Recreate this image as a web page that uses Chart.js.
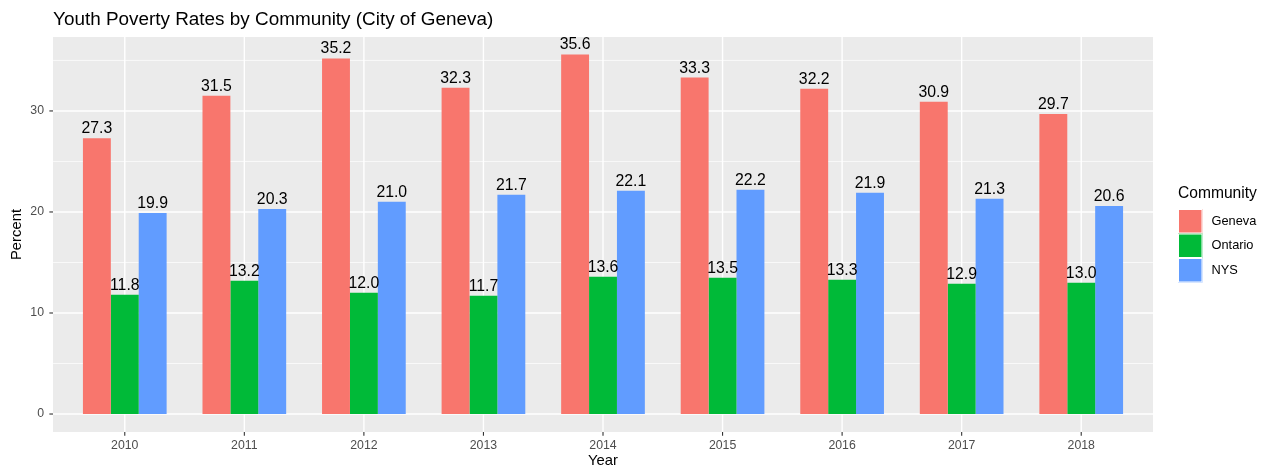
<!doctype html>
<html><head>
<meta charset="utf-8">
<title>Youth Poverty Rates</title>
<script src="https://cdn.jsdelivr.net/npm/chart.js"></script>
<style>
  body { margin: 0; background: #fff; }
</style>
</head>
<body>
<canvas id="myChart" width="1270" height="470"></canvas>
<script>
// data
const years = ['2010', '2011', '2012', '2013', '2014', '2015', '2016', '2017', '2018'];
const geneva = [27.3, 31.5, 35.2, 32.3, 35.6, 33.3, 32.2, 30.9, 29.7];
const ontario = [11.8, 13.2, 12.0, 11.7, 13.6, 13.5, 13.3, 12.9, 13.0];
const nys = [19.9, 20.3, 21.0, 21.7, 22.1, 22.2, 21.9, 21.3, 20.6];
const yTicks = [0, 10, 20, 30];
const yMinor = [5, 15, 25, 35];

const FONT = '"Liberation Sans", Arial, sans-serif';

// ggplot-like grey panel with white grid lines and tick marks
const panelPlugin = {
  id: 'panel',
  beforeDraw(chart) {
    const ctx = chart.ctx, a = chart.chartArea;
    const xs = chart.scales.x, ys = chart.scales.y;
    const unit = (a.right - a.left) / years.length;
    const left = a.left - 0.1 * unit, right = a.right + 0.1 * unit;
    ctx.save();
    ctx.fillStyle = '#EBEBEB';
    ctx.fillRect(left, a.top, right - left, a.bottom - a.top);
    ctx.strokeStyle = '#FFFFFF';
    ctx.lineWidth = 0.7;
    yMinor.forEach(v => {
      const y = ys.getPixelForValue(v);
      ctx.beginPath(); ctx.moveTo(left, y); ctx.lineTo(right, y); ctx.stroke();
    });
    ctx.lineWidth = 1.4;
    yTicks.forEach(v => {
      const y = ys.getPixelForValue(v);
      ctx.beginPath(); ctx.moveTo(left, y); ctx.lineTo(right, y); ctx.stroke();
    });
    years.forEach((yr, i) => {
      const x = xs.getPixelForValue(i);
      ctx.beginPath(); ctx.moveTo(x, a.top); ctx.lineTo(x, a.bottom); ctx.stroke();
    });
    // tick marks
    ctx.strokeStyle = '#333333';
    ctx.lineWidth = 1.1;
    yTicks.forEach(v => {
      const y = ys.getPixelForValue(v);
      ctx.beginPath(); ctx.moveTo(left - 3.7, y); ctx.lineTo(left, y); ctx.stroke();
    });
    years.forEach((yr, i) => {
      const x = xs.getPixelForValue(i);
      ctx.beginPath(); ctx.moveTo(x, a.bottom); ctx.lineTo(x, a.bottom + 3.7); ctx.stroke();
    });
    // title
    ctx.fillStyle = '#000';
    ctx.font = '18.9px ' + FONT;
    ctx.textAlign = 'left';
    ctx.textBaseline = 'alphabetic';
    ctx.fillText('Youth Poverty Rates by Community (City of Geneva)', left, 25);
    ctx.restore();
  },
  afterDatasetsDraw(chart) {
    const ctx = chart.ctx;
    ctx.save();
    ctx.fillStyle = '#000';
    ctx.font = '15.8px ' + FONT;
    ctx.textAlign = 'center';
    ctx.textBaseline = 'alphabetic';
    chart.data.datasets.forEach((ds, d) => {
      chart.getDatasetMeta(d).data.forEach((bar, i) => {
        ctx.fillText(ds.data[i].toFixed(1), bar.x, bar.y - 5);
      });
    });
    // legend
    const lx = 1178, ly = 209, key = 24.5;
    ctx.textAlign = 'left';
    ctx.textBaseline = 'middle';
    ctx.font = '15.6px ' + FONT;
    ctx.fillText('Community', lx, 194);
    ctx.font = '12.8px ' + FONT;
    chart.data.datasets.forEach((ds, d) => {
      const y = ly + d * key;
      ctx.fillStyle = ds.backgroundColor;
      ctx.fillRect(lx, y, key, key);
      ctx.strokeStyle = '#fff';
      ctx.lineWidth = 1;
      ctx.strokeRect(lx + 0.5, y + 0.5, key - 1, key - 1);
      ctx.fillStyle = '#000';
      ctx.fillText(ds.label, lx + key + 9, y + key / 2);
    });
    ctx.restore();
  }
};

var ctx = document.getElementById('myChart');
var myChart = new Chart(ctx, {
  type: 'bar',
  data: {
    labels: years,
    datasets: [
      { label: 'Geneva', data: geneva, backgroundColor: '#F8766D' },
      { label: 'Ontario', data: ontario, backgroundColor: '#00BA38' },
      { label: 'NYS', data: nys, backgroundColor: '#619CFF' }
    ]
  },
  options: {
    responsive: false,
    devicePixelRatio: 1,
    animation: false,
    layout: { padding: { top: 37, right: 129, left: 0, bottom: 0 } },
    datasets: { bar: { categoryPercentage: 0.7, barPercentage: 1.0, borderWidth: 0 } },
    plugins: { legend: { display: false }, tooltip: { enabled: false }, title: { display: false } },
    scales: {
      x: {
        grid: { display: false, drawTicks: false, tickLength: 0 },
        border: { display: false },
        ticks: { color: '#4D4D4D', font: { family: FONT, size: 12.3 }, padding: 6, maxRotation: 0 },
        title: { display: true, text: 'Year', color: '#000', font: { family: FONT, size: 14.8 }, padding: { top: 0, bottom: 0 } },
        afterFit(scale) { scale.height = 38; }
      },
      y: {
        min: -1.78,
        max: 37.32,
        grid: { display: false, drawTicks: false, tickLength: 0 },
        border: { display: false },
        ticks: { stepSize: 10, includeBounds: false, color: '#4D4D4D', font: { family: FONT, size: 12.3 }, padding: 21 },
        title: { display: true, text: 'Percent', color: '#000', font: { family: FONT, size: 14.8 }, padding: { top: 8, bottom: 8 } },
        afterFit(scale) { scale.width = 65; }
      }
    }
  },
  plugins: [panelPlugin]
});
</script>
</body></html>
